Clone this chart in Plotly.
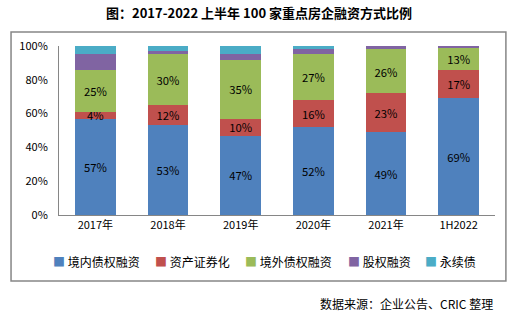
import plotly.graph_objects as go

categories = ["2017年", "2018年", "2019年", "2020年", "2021年", "1H2022"]
series_names = ["境内债权融资", "资产证券化", "境外债权融资", "股权融资", "永续债"]
domestic = [57, 53, 47, 52, 49, 69]
abs_sec = [4, 12, 10, 16, 23, 17]
overseas = [25, 30, 35, 27, 26, 13]
equity = [9, 2, 3, 3, 2, 1]
perpetual = [5, 3, 5, 2, 0, 0]
y_ticks = [0, 20, 40, 60, 80, 100]
y_tick_labels = ["0%", "20%", "40%", "60%", "80%", "100%"]
colors = ["#4F81BD", "#C0504D", "#9BBB59", "#8064A2", "#4BACC6"]
show_labels = [True, True, True, False, False]
title_text = "图：2017-2022 上半年 100 家重点房企融资方式比例"
source_text = "数据来源：企业公告、CRIC 整理"

all_series = [domestic, abs_sec, overseas, equity, perpetual]
FONT = "Noto Sans CJK SC"

fig = go.Figure()
for name, vals, col, lab in zip(series_names, all_series, colors, show_labels):
    fig.add_trace(go.Bar(
        x=categories, y=vals, name=name, marker=dict(color=col, line=dict(width=0)),
        text=[f"{v}%" for v in vals] if lab else None,
        textposition="inside" if lab else "none",
        insidetextanchor="middle",
        textfont=dict(color="#000000", size=12, family=FONT),
        showlegend=False,
    ))

fig.update_layout(
    barmode="stack",
    bargap=0.44,
    width=517, height=322,
    margin=dict(l=59, r=22, t=46, b=107),
    paper_bgcolor="white", plot_bgcolor="white",
    font=dict(family=FONT, size=11, color="#000000"),
    uniformtext=dict(minsize=11, mode="show"),
)
fig.update_yaxes(range=[0, 100], tickmode="array", tickvals=y_ticks, ticktext=y_tick_labels,
                 showgrid=False, showline=True, linecolor="#868686", linewidth=1,
                 zeroline=False, ticks="", ticklabelstandoff=8,
                 tickfont=dict(size=11, family=FONT, color="#000000"))
fig.update_xaxes(showgrid=False, showline=True, linecolor="#868686", linewidth=1,
                 ticks="", tickfont=dict(size=11, family=FONT, color="#000000"))

# outer chart border
fig.add_shape(type="rect", xref="paper", yref="paper",
              x0=-0.110, x1=1.025, y0=-0.391, y1=1.083,
              line=dict(color="#868686", width=1.5), fillcolor="rgba(0,0,0,0)", layer="below")

# title
fig.add_annotation(text=f"<b>{title_text}</b>", xref="paper", yref="paper",
                   x=(259 - 59) / 436, y=(215 - 13) / 169, xanchor="center", yanchor="middle",
                   showarrow=False, font=dict(size=13, family=FONT, color="#000000"))

# legend (manual)
legend_x = [51, 153, 243, 346, 423]
for name, col, px in zip(series_names, colors, legend_x):
    fig.add_annotation(text=f'<span style="color:{col}">■</span> {name}',
                       xref="paper", yref="paper", x=(px - 59) / 436, y=(215 - 261) / 169,
                       xanchor="left", yanchor="middle", showarrow=False,
                       font=dict(size=12, family=FONT, color="#000000"))

# source
fig.add_annotation(text=source_text, xref="paper", yref="paper",
                   x=(495 - 59) / 436, y=(215 - 303) / 169, xanchor="right", yanchor="middle",
                   showarrow=False, font=dict(size=12, family=FONT, color="#000000"))

fig.write_html("out.html")
